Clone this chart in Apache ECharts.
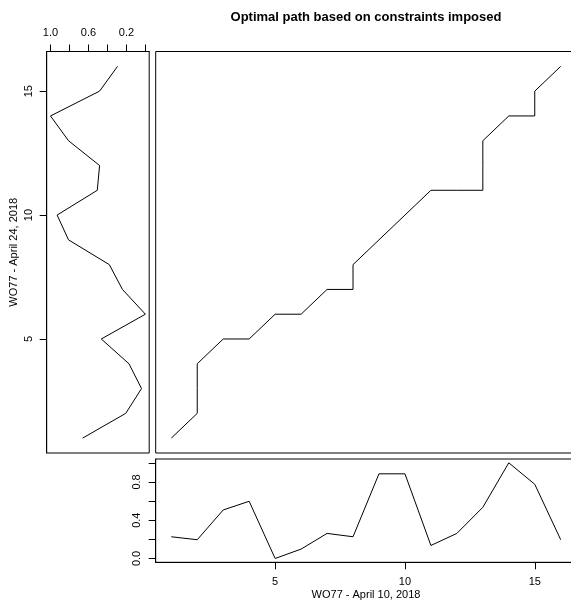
<!DOCTYPE html>
<html>
<head>
<meta charset="utf-8">
<script src="https://cdn.jsdelivr.net/npm/echarts@6/dist/echarts.min.js"></script>
<style>html,body{margin:0;padding:0;background:#fff}#c{width:571px;height:601px}</style>
</head>
<body>
<div id="c"></div>
<script>
// Warping path (query index, reference index)
const pathX = [1,2,2,2,3,4,5,6,7,8,8,9,10,11,12,13,13,13,14,15,15,16];
const pathY = [1,2,3,4,5,5,6,6,7,7,8,9,10,11,11,11,12,13,14,14,15,16];
// Bottom series: WO77 - April 10, 2018 (normalized)
const queryIdx = [1,2,3,4,5,6,7,8,9,10,11,12,13,14,15,16];
const queryVal = [0.227,0.196,0.507,0.598,0.0,0.098,0.262,0.227,0.885,0.885,0.136,0.262,0.535,1.0,0.776,0.196];
// Left series: WO77 - April 24, 2018 (normalized)
const refIdx = [1,2,3,4,5,6,7,8,9,10,11,12,13,14,15,16];
const refVal = [0.662,0.207,0.041,0.173,0.465,0.0,0.242,0.38,0.81,0.93,0.507,0.483,0.81,1.0,0.483,0.294];
// Tick values
const idxTicks = [5,10,15];
const normTicks = [0,0.2,0.4,0.6,0.8,1.0];
const bottomLabels = [0,0.4,0.8];
const leftLabels = [1.0,0.6,0.2];

const FONT = 'Liberation Sans, Arial, sans-serif';
const chart = echarts.init(document.getElementById('c'), null, {renderer:'canvas'});

const lineStyle = {color:'#000', width:1};
const tickStyle = {color:'#000', width:1};
const labelBase = {color:'#000', fontSize:11, fontFamily:FONT};
const fmt1 = v => Number(v).toFixed(1);

chart.setOption({
  animation:false,
  backgroundColor:'#fff',
  graphic:[{
    type:'text', x:366, y:17,
    style:{text:'Optimal path based on constraints imposed', fill:'#000', font:'bold 13px '+FONT, textAlign:'center', textVerticalAlign:'middle'}
  }],
  grid:[
    {left:155.7, top:51.5, width:420.6, height:401.5, show:true, borderColor:'#000', borderWidth:1, containLabel:false, outerBoundsMode:'none'},
    {left:155.7, top:459, width:420.6, height:103.3, show:true, borderColor:'#000', borderWidth:1, containLabel:false, outerBoundsMode:'none'},
    {left:46.7, top:51.5, width:102.5, height:401.5, show:true, borderColor:'#000', borderWidth:1, containLabel:false, outerBoundsMode:'none'}
  ],
  xAxis:[
    {gridIndex:0, type:'value', min:0.4, max:16.6, axisLine:{show:false, onZero:false}, axisTick:{show:false}, axisLabel:{show:false}, splitLine:{show:false}},
    {gridIndex:1, type:'value', min:0.4, max:16.6, position:'bottom',
      axisLine:{show:true, onZero:false, lineStyle:tickStyle}, splitLine:{show:false},
      axisTick:{show:true, length:7, lineStyle:tickStyle, customValues:idxTicks},
      axisLabel:Object.assign({margin:14, customValues:idxTicks}, labelBase),
      name:'WO77 - April 10, 2018', nameLocation:'middle', nameGap:27, nameTextStyle:Object.assign({}, labelBase)},
    {gridIndex:2, type:'value', min:-0.04, max:1.04, inverse:true, position:'top',
      axisLine:{show:true, onZero:false, lineStyle:tickStyle}, splitLine:{show:false},
      axisTick:{show:true, length:7, lineStyle:tickStyle, customValues:normTicks},
      axisLabel:Object.assign({margin:13, customValues:leftLabels, formatter:fmt1}, labelBase)}
  ],
  yAxis:[
    {gridIndex:0, type:'value', min:0.4, max:16.6, axisLine:{show:false, onZero:false}, axisTick:{show:false}, axisLabel:{show:false}, splitLine:{show:false}},
    {gridIndex:1, type:'value', min:-0.04, max:1.04, position:'left',
      axisLine:{show:true, onZero:false, lineStyle:tickStyle}, splitLine:{show:false},
      axisTick:{show:true, length:7, lineStyle:tickStyle, customValues:normTicks},
      axisLabel:Object.assign({margin:13, rotate:90, customValues:bottomLabels, formatter:fmt1}, labelBase)},
    {gridIndex:2, type:'value', min:0.4, max:16.6, position:'left',
      axisLine:{show:true, onZero:false, lineStyle:tickStyle}, splitLine:{show:false},
      axisTick:{show:true, length:7, lineStyle:tickStyle, customValues:idxTicks},
      axisLabel:Object.assign({margin:12, rotate:90, customValues:idxTicks}, labelBase),
      name:'WO77 - April 24, 2018', nameLocation:'middle', nameGap:27, nameTextStyle:Object.assign({}, labelBase)}
  ],
  series:[
    {type:'line', xAxisIndex:0, yAxisIndex:0, data:pathX.map((x,i)=>[x,pathY[i]]), showSymbol:false, lineStyle:lineStyle, silent:true},
    {type:'line', xAxisIndex:1, yAxisIndex:1, data:queryIdx.map((x,i)=>[x,queryVal[i]]), showSymbol:false, lineStyle:lineStyle, silent:true},
    {type:'line', xAxisIndex:2, yAxisIndex:2, data:refIdx.map((y,i)=>[refVal[i],y]), showSymbol:false, lineStyle:lineStyle, silent:true}
  ]
});
</script>
</body>
</html>
